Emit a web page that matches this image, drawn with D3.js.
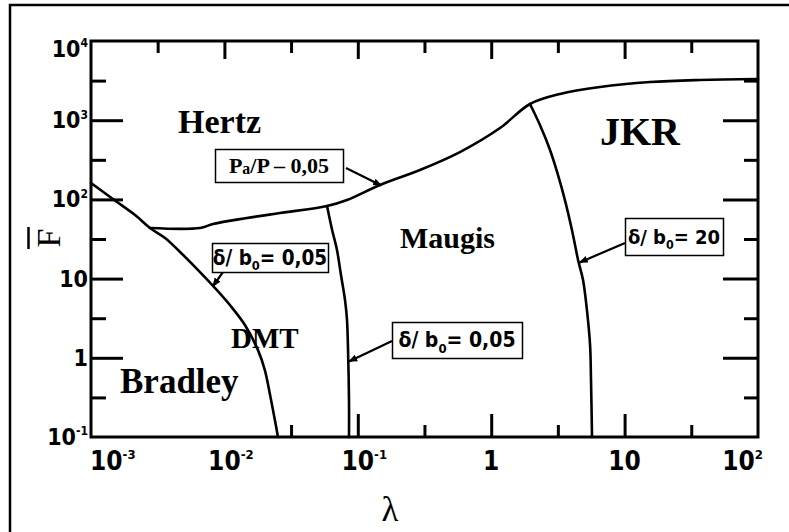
<!DOCTYPE html>
<html>
<head>
<meta charset="utf-8">
<script src="https://cdn.jsdelivr.net/npm/d3@7"></script>
<style>
  html, body { margin: 0; padding: 0; background: #fff; }
  svg { display: block; }
</style>
</head>
<body>
<svg id="chart" width="789" height="532"></svg>
<script>
// ---- contact-regime map boundaries, points given as [lambda, F] ----
const bradleyDmtBoundary = [
  [0.001, 161], [0.00146, 101], [0.00214, 63.5], [0.00277, 43.5], [0.00359, 32.6],
  [0.00465, 21.7], [0.00656, 12.1], [0.00851, 7.6], [0.0110, 4.64], [0.01425, 2.6],
  [0.01786, 1.25], [0.0201, 0.70], [0.0220, 0.339], [0.0239, 0.164], [0.0252, 0.1]
];
const hertzBoundary = [
  [0.00277, 43.5], [0.00656, 43.5], [0.00822, 48.9], [0.01475, 58.2], [0.0261, 67.3],
  [0.0588, 82.5], [0.0830, 98.2], [0.1466, 152], [0.292, 235], [0.583, 396],
  [1.164, 797], [1.954, 1602], [3.28, 2142], [6.54, 2624], [15.5, 3034],
  [36.7, 3221], [100, 3311]
];
const dmtMaugisBoundary = [
  [0.0588, 82.5], [0.0642, 41.1], [0.0698, 23.0], [0.0748, 11.1], [0.0802, 5.37],
  [0.0830, 3.0], [0.0845, 1.25], [0.0859, 0.293], [0.0859, 0.1]
];
const maugisJkrBoundary = [
  [1.954, 1602], [2.32, 869], [2.76, 421], [3.17, 203], [3.57, 98], [4.03, 41.1],
  [4.48, 17.2], [4.88, 9.6], [5.22, 4.0], [5.51, 1.45], [5.60, 0.525], [5.70, 0.1]
];

// ---- region names ----
const regionNames = ["Hertz", "JKR", "Maugis", "DMT", "Bradley"];

// ---- boundary annotations: text parts and the point the arrow touches ----
const noteTexts = [
  ["P", "a", "/P \u2013 0,05"],
  ["\u03b4/ b", "0", "= 0,05"],
  ["\u03b4/ b", "0", "= 0,05"],
  ["\u03b4/ b", "0", "= 20"]
];
const noteTargets = [[0.15, 150], [0.0082, 8.0], [0.0859, 0.9], [4.6, 16]];

// ---- axes ----
const xDomain = [1e-3, 1e2];
const yDomain = [1e-1, 1e4];
const xTickValues = [1e-3, 1e-2, 1e-1, 1, 10, 100];
const xTickLabels = [["10", "-3"], ["10", "-2"], ["10", "-1"], ["1", ""], ["10", ""], ["10", "2"]];
const yTickValues = [1e-1, 1, 10, 100, 1e3, 1e4];
const yTickLabels = [["10", "-1"], ["1", ""], ["10", ""], ["10", "2"], ["10", "3"], ["10", "4"]];
const bottomMajor = [0.1, 1, 10];
const bottomMinor = [0.0316, 0.316, 3.16, 31.6];
const topMajor = [0.01, 0.1, 1, 10];
const topMinor = [0.00316, 0.0316, 0.316, 3.16, 31.6];
const sideMajor = [1, 10, 100, 1000];
const sideMinor = [0.316, 3.16, 31.6, 316, 3162];
const xTitle = "\u03bb";
const yTitle = "F";

// ---------------------------------------------------------------
const svg = d3.select("#chart");
const W = 789, H = 532;
const tickFont = "'Liberation Sans Narrow','DejaVu Sans Condensed','Arial Narrow',sans-serif";
const serif = "'Liberation Serif','Times New Roman',serif";

const x = d3.scaleLog().domain(xDomain).range([91, 758]);
const y = d3.scaleLog().domain(yDomain).range([437, 41]);

// page frame
svg.append("rect")
  .attr("x", 10).attr("y", 5).attr("width", W).attr("height", H)
  .attr("fill", "none").attr("stroke", "#000").attr("stroke-width", 2.5);

// arrowhead
svg.append("defs").append("marker")
  .attr("id", "head").attr("viewBox", "0 0 10 10")
  .attr("refX", 9).attr("refY", 5)
  .attr("markerWidth", 9).attr("markerHeight", 9)
  .attr("markerUnits", "userSpaceOnUse")
  .attr("orient", "auto")
  .append("path").attr("d", "M0,1 L10,5 L0,9 Z").attr("fill", "#000");

// tick marks (all pointing into the plot)
function ticks(axis, transform, vals, len) {
  const g = svg.append("g").attr("transform", transform)
    .call(axis.tickValues(vals).tickSizeInner(-len).tickSizeOuter(0).tickFormat(""));
  g.select(".domain").remove();
  g.selectAll(".tick line").attr("stroke", "#000").attr("stroke-width", 3);
  return g;
}
const [x0, x1] = x.range();
const [yb, yt] = y.range();
ticks(d3.axisBottom(x), `translate(0,${yb})`, bottomMajor, 23);
ticks(d3.axisBottom(x), `translate(0,${yb})`, bottomMinor, 12);
ticks(d3.axisTop(x), `translate(0,${yt})`, topMajor, 18);
ticks(d3.axisTop(x), `translate(0,${yt})`, topMinor, 12);
ticks(d3.axisLeft(y), `translate(${x0},0)`, sideMajor, 32);
ticks(d3.axisLeft(y), `translate(${x0},0)`, sideMinor, 15);
ticks(d3.axisRight(y), `translate(${x1},0)`, sideMajor, 35);
ticks(d3.axisRight(y), `translate(${x1},0)`, sideMinor, 14);

// plot frame
svg.append("rect")
  .attr("x", x0).attr("y", yt).attr("width", x1 - x0).attr("height", yb - yt)
  .attr("fill", "none").attr("stroke", "#000").attr("stroke-width", 3);

// tick labels with superscript exponents
function powLabel(sel, parts, size, supSize) {
  sel.append("tspan").attr("class", "base").text(parts[0]);
  if (parts[1]) {
    sel.append("tspan").attr("font-size", supSize).attr("dy", -size * 0.42).text(parts[1]);
  }
}
xTickValues.forEach((v, i) => {
  const t = svg.append("text")
    .attr("font-family", tickFont).attr("font-weight", "bold")
    .attr("font-size", 26).attr("y", 470).attr("fill", "#000");
  powLabel(t, xTickLabels[i], 26, 13);
  const bw = t.select(".base").node().getComputedTextLength();
  const tw = t.node().getComputedTextLength();
  let lx = x(v) - bw / 2;
  lx = Math.max(lx, 90);
  if (lx + tw > 763) lx = 763 - tw;
  t.attr("x", lx);
});
yTickValues.forEach((v, i) => {
  const cy = Math.max(y(v), 49);
  const t = svg.append("text")
    .attr("font-family", tickFont).attr("font-weight", "bold")
    .attr("font-size", 23).attr("text-anchor", "end")
    .attr("x", 88).attr("y", cy + 8).attr("fill", "#000");
  powLabel(t, yTickLabels[i], 23, 12);
});

// axis titles
svg.append("text")
  .attr("font-family", serif).attr("font-size", 35)
  .attr("text-anchor", "middle").attr("x", 390).attr("y", 521)
  .text(xTitle);
svg.append("text")
  .attr("font-family", serif).attr("font-size", 34)
  .attr("text-anchor", "middle")
  .attr("transform", "translate(60,238) rotate(-90)")
  .text(yTitle);
svg.append("line")
  .attr("x1", 28.5).attr("x2", 28.5).attr("y1", 227).attr("y2", 249)
  .attr("stroke", "#000").attr("stroke-width", 2.5);

// regime boundaries
const line = d3.line()
  .x(d => x(d[0])).y(d => y(d[1]))
  .curve(d3.curveCatmullRom.alpha(0.5));
[bradleyDmtBoundary, hertzBoundary, dmtMaugisBoundary, maugisJkrBoundary].forEach(pts => {
  svg.append("path").attr("d", line(pts))
    .attr("fill", "none").attr("stroke", "#000")
    .attr("stroke-width", 2.6).attr("stroke-linejoin", "round").attr("stroke-linecap", "round");
});

// region names
const regionLayout = [
  { x: 178, y: 133, size: 34 },
  { x: 600, y: 145, size: 40 },
  { x: 400, y: 248, size: 30 },
  { x: 231, y: 348, size: 29 },
  { x: 120, y: 393, size: 35 }
];
regionNames.forEach((name, i) => {
  const L = regionLayout[i];
  svg.append("text")
    .attr("font-family", serif).attr("font-weight", "bold")
    .attr("font-size", L.size).attr("x", L.x).attr("y", L.y)
    .text(name);
});

// annotation boxes with arrows onto the boundaries
const boxLayout = [
  { x: 215, y: 149, w: 128, h: 33, size: 22, font: serif, ax: 346, ay: 168 },
  { x: 212, y: 243, w: 116, h: 29, size: 20.5, font: tickFont, ax: 223, ay: 272 },
  { x: 392, y: 322, w: 130, h: 36, size: 21, font: tickFont, ax: 392, ay: 341 },
  { x: 625, y: 218, w: 98, h: 37, size: 20, font: tickFont, ax: 625, ay: 243 }
];
noteTexts.forEach((parts, i) => {
  const B = boxLayout[i];
  const [tl, tf] = noteTargets[i];
  svg.append("line")
    .attr("x1", B.ax).attr("y1", B.ay).attr("x2", x(tl)).attr("y2", y(tf))
    .attr("stroke", "#000").attr("stroke-width", 2.2)
    .attr("marker-end", "url(#head)");
  svg.append("rect")
    .attr("x", B.x + 0.5).attr("y", B.y + 0.5).attr("width", B.w).attr("height", B.h)
    .attr("fill", "#fff").attr("stroke", "#000").attr("stroke-width", 1.5);
  const t = svg.append("text")
    .attr("font-family", B.font).attr("font-weight", "bold")
    .attr("font-size", B.size).attr("text-anchor", "middle")
    .attr("x", B.x + B.w / 2).attr("y", B.y + B.h / 2 + B.size * 0.35);
  const subIsA = i === 0;
  t.append("tspan").text(parts[0]);
  t.append("tspan").attr("font-size", B.size * (subIsA ? 0.72 : 0.62))
    .attr("dy", subIsA ? 1 : B.size * 0.28).text(parts[1]);
  t.append("tspan").attr("dy", subIsA ? -1 : -B.size * 0.28).text(parts[2]);
});
</script>
</body>
</html>
